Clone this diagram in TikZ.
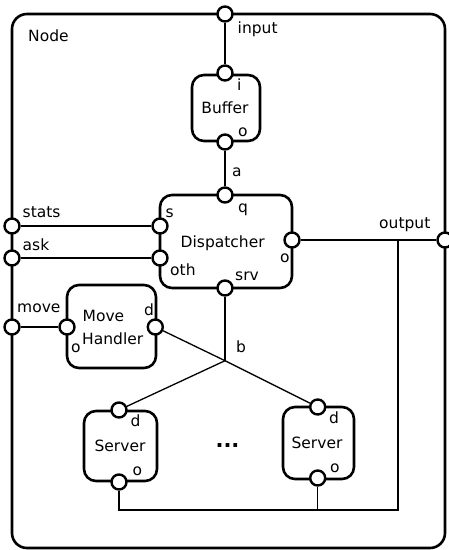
\documentclass[tikz,border=0pt]{standalone}
\usepackage{fontspec}
\setmainfont{DejaVu Sans}
\begin{document}
\begin{tikzpicture}[x=1pt,y=-1pt,
  lbl/.style={font=\fontsize{15.5}{17}\selectfont, inner sep=0pt, anchor=base west},
  ctext/.style={font=\fontsize{15.5}{17}\selectfont, inner sep=0pt, anchor=base},
  comp/.style={draw, line width=2.6pt, rounded corners=12pt, inner sep=0pt},
  port/.style={circle, draw, line width=2.4pt, fill=white, minimum size=15pt, inner sep=0pt},
  wire/.style={line width=1.3pt}]
\useasboundingbox (0,0) rectangle (449,550);
% outer frame
\node[comp, rounded corners=15pt, minimum width=433pt, minimum height=534pt] (outer) at (228.5,281) {};
% components
\node[comp, minimum width=68pt, minimum height=66pt] (buffer) at (226,108) {};
\node[comp, minimum width=132pt, minimum height=93pt] (disp) at (226,241.5) {};
\node[comp, minimum width=89pt, minimum height=83pt] (mh) at (111.5,326.5) {};
\node[comp, minimum width=73pt, minimum height=70pt] (srv1) at (120.5,446) {};
\node[comp, minimum width=71pt, minimum height=72pt] (srv2) at (318.5,443) {};
% wire coordinates
\coordinate (b) at (225,360.7);
\coordinate (j1) at (398,240);
\coordinate (j2) at (398,510);
% ports
\node[port] (pin) at (225,14) {};
\node[port] (pstats) at (12,226) {};
\node[port] (pask) at (12,258) {};
\node[port] (pmove) at (12,327) {};
\node[port] (pout) at (445,240) {};
\node[port] (bi) at (225,73) {};
\node[port] (bo) at (225,142) {};
\node[port] (dq) at (225,195) {};
\node[port] (ds) at (160,226) {};
\node[port] (doth) at (160,258) {};
\node[port] (do) at (292,240) {};
\node[port] (dsrv) at (225,288) {};
\node[port] (mho) at (67,327) {};
\node[port] (mhd) at (155.3,327) {};
\node[port] (s1d) at (119,410) {};
\node[port] (s1o) at (119,482) {};
\node[port] (s2d) at (317.7,407) {};
\node[port] (s2o) at (317.7,478) {};
% connectors
\draw[wire] (pin) -- (bi);
\draw[wire] (bo) -- (dq);
\draw[wire] (pstats) -- (ds);
\draw[wire] (pask) -- (doth);
\draw[wire] (pmove) -- (mho);
\draw[wire] (do) -- (pout);
\draw[wire] (j1) -- (j2) -| (s1o);
\draw[wire] (s2o) -- (s2o |- j2);
\draw[wire] (dsrv) -- (b);
\draw[wire] (mhd) -- (b) -- (s2d);
\draw[wire] (b) -- (s1d);
% labels
\node[lbl] (tnode) at (28,41) {Node};
\node[lbl] (tinput) at (237.5,33) {input};
\node[lbl] (ti) at (237,90) {i};
\node[ctext] (tbuffer) at (225,113) {Buffer};
\node[lbl] (tbo) at (238,136) {o};
\node[lbl] (ta) at (232,176) {a};
\node[lbl] (tq) at (238,212) {q};
\node[lbl] (ts) at (165.5,217) {s};
\node[lbl] (tstats) at (22.5,217) {stats};
\node[lbl] (task) at (22.5,250) {ask};
\node[ctext] (tdisp) at (222.7,247.3) {Dispatcher};
\node[lbl] (tdo) at (280,262) {o};
\node[lbl] (toth) at (170,275) {oth};
\node[lbl] (tsrv) at (235,280) {srv};
\node[lbl] (toutput) at (379,228) {output};
\node[lbl] (tmove) at (17,312) {move};
\node[lbl] (tMove) at (82.5,321) {Move};
\node[lbl] (tHandler) at (82,344) {Handler};
\node[lbl] (tmho) at (71,352) {o};
\node[lbl] (tmhd) at (144,315) {d};
\node[lbl] (tb) at (236,352) {b};
\node[lbl] (ts1d) at (130.5,426) {d};
\node[ctext] (ts1) at (120,451) {Server};
\node[lbl] (ts1o) at (132.5,475) {o};
\node[lbl] (ts2d) at (329,423) {d};
\node[ctext] (ts2) at (317,448.3) {Server};
\node[lbl] (ts2o) at (330,472) {o};
\node[ctext, font=\fontsize{21}{23}\selectfont\bfseries] (dots) at (227.5,447) {...};
\end{tikzpicture}
\end{document}
